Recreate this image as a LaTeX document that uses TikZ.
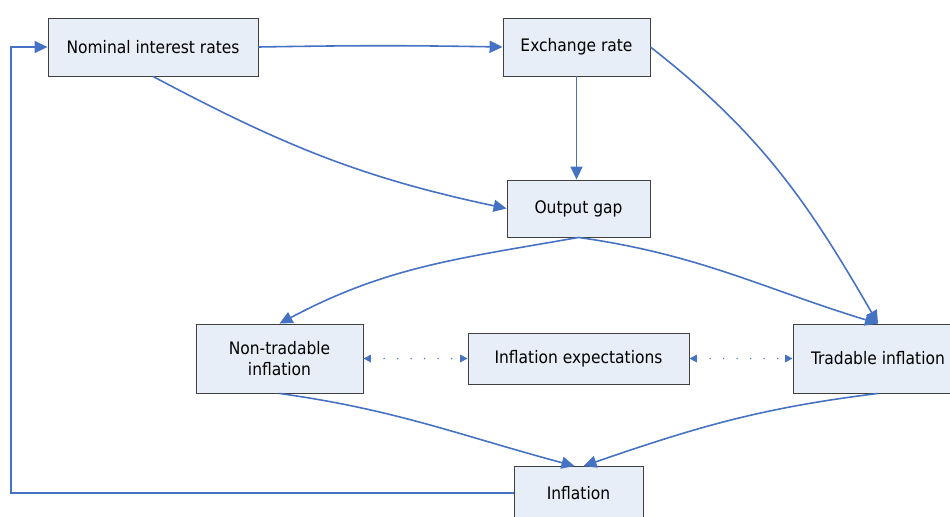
\documentclass[tikz,border=0pt]{standalone}
\usepackage{fontspec}
\setmainfont{DejaVu Sans Condensed}
\usetikzlibrary{arrows.meta}

\definecolor{flowblue}{RGB}{70,114,196}
\definecolor{boxfill}{RGB}{232,238,248}
\definecolor{boxline}{RGB}{64,64,64}

\tikzset{
  blk/.style={rectangle,draw=boxline,line width=0.5pt,fill=boxfill,inner sep=0pt,
    align=center,font=\fontsize{9.8}{11.6}\selectfont},
  flow/.style={draw=flowblue,line width=0.9pt,-{Triangle[length=0.26cm,width=0.24cm]}},
  link/.style={draw=flowblue,line width=0.9pt,line cap=round,dash pattern=on 0pt off 0.27cm,
    {Triangle[length=0.15cm,width=0.15cm]}-{Triangle[length=0.15cm,width=0.15cm]}}
}

\begin{document}
\begin{tikzpicture}
      \clip (0,0) rectangle (19,-10.32);
      \fill[white] (0,0) rectangle (19,-10.32);

      \node [blk,minimum width=4.2cm,minimum height=1.16cm] (nom) at (3.06,-0.94) {Nominal interest rates};
      \node [blk,minimum width=2.94cm,minimum height=1.16cm] (exch) at (11.53,-0.94) {Exchange rate};
      \node [blk,minimum width=2.86cm,minimum height=1.14cm] (out) at (11.57,-4.17) {Output gap};
      \node [blk,minimum width=3.34cm,minimum height=1.38cm] (nontr) at (5.59,-7.17) {Non-tradable\\inflation};
      \node [blk,minimum width=4.42cm,minimum height=1.02cm] (exp) at (11.57,-7.17) {Inflation expectations};
      \node [blk,minimum width=3.4cm,minimum height=1.38cm] (trad) at (17.56,-7.17) {Tradable inflation};
      \node [blk,minimum width=2.58cm,minimum height=1.06cm] (infl) at (11.57,-9.86) {Inflation};
      \coordinate (ret) at (0.22,-9.86);

      \draw[flow] (nom.east) to[out=1,in=179] (exch.west);
      \draw[flow] (nom.south) to[out=-28,in=168] (out.west);
      \draw[flow] (exch.south) -- (exch.south |- out.north);
      \draw[flow] (exch.east) to[out=-38,in=120] (trad.north);
      \draw[flow] (out.south) to[out=190,in=28] (nontr.north);
      \draw[flow] (out.south) to[out=-8,in=163] (trad.north);
      \draw[flow] (nontr.south) to[out=-8,in=165] ([xshift=-0.08cm]infl.north);
      \draw[flow] (trad.south) to[out=187,in=19] ([xshift=0.1cm]infl.north);
      \draw[flow] (infl.west) -- (ret) |- (nom.west);

      \draw[link] (nontr.east) -- (exp.west);
      \draw[link] (exp.east) -- (trad.west);
    \end{tikzpicture}
\end{document}
